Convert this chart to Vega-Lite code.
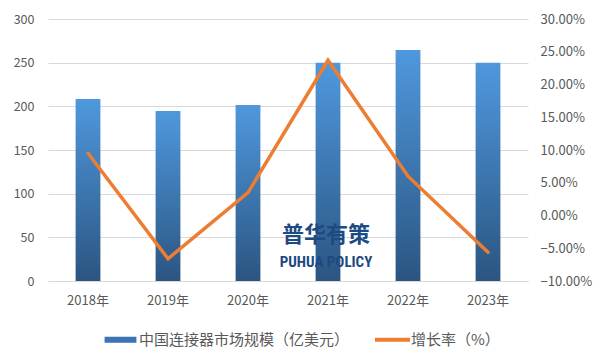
{
  "$schema": "https://vega.github.io/schema/vega-lite/v6.json",
  "width": 480,
  "height": 262,
  "autosize": "none",
  "padding": {"left": 48, "top": 19, "right": 73, "bottom": 80},
  "background": "white",
  "config": {
    "font": "Noto Sans CJK SC",
    "view": {"stroke": null},
    "axis": {"labelColor": "#595959", "labelFontSize": 12.5, "ticks": false, "domain": false, "title": null, "gridColor": "#d9d9d9", "gridWidth": 1}
  },
  "data": {
    "values": [
      {"year": "2018年", "size": 208.4, "growth": 0.095},
      {"year": "2019年", "size": 194.7, "growth": -0.066},
      {"year": "2020年", "size": 201.5, "growth": 0.035},
      {"year": "2021年", "size": 250.0, "growth": 0.237},
      {"year": "2022年", "size": 264.5, "growth": 0.060},
      {"year": "2023年", "size": 250.0, "growth": -0.056}
    ]
  },
  "encoding": {
    "x": {"field": "year", "type": "nominal", "sort": null, "scale": {"paddingInner": 0.69, "paddingOuter": 0.345},
      "axis": {"labelAngle": 0, "domain": true, "domainColor": "#d9d9d9", "labelPadding": 13, "labelFontSize": 13}}
  },
  "layer": [
    {
      "mark": {"type": "bar", "strokeWidth": 0,
        "color": {"gradient": "linear", "x1": 0, "y1": 0, "x2": 0, "y2": 1,
          "stops": [{"offset": 0, "color": "#4f98dd"}, {"offset": 1, "color": "#2b5581"}]}},
      "encoding": {
        "y": {"field": "size", "type": "quantitative", "scale": {"domain": [0, 300]},
          "axis": {"tickCount": 6, "grid": true, "labelPadding": 14}},
        "stroke": {"datum": "中国连接器市场规模（亿美元）", "type": "nominal",
          "scale": {"domain": ["中国连接器市场规模（亿美元）", "增长率（%）"], "range": ["#3a76b6", "#ED7D31"]},
          "legend": {
            "orient": "none", "legendX": 65, "legendY": 313, "direction": "horizontal", "title": null,
            "labelFontSize": 15, "labelColor": "#595959", "symbolSize": 1225, "labelOffset": 11, "columnPadding": 17, "labelLimit": 400,
            "encoding": {"symbols": {
              "shape": {"value": {"expr": "datum.value === '增长率（%）' ? 'stroke' : 'M-0.91,-0.17H0.91V0.17H-0.91Z'"}},
              "fill": {"value": {"expr": "datum.value === '增长率（%）' ? 'transparent' : '#3a74b2'"}},
              "stroke": {"value": {"expr": "datum.value === '增长率（%）' ? '#ED7D31' : '#3a74b2'"}},
              "strokeWidth": {"value": {"expr": "datum.value === '增长率（%）' ? 4 : 0"}}
            }}
          }}
      }
    },
    {
      "mark": {"type": "line", "strokeWidth": 3.5, "strokeCap": "round"},
      "encoding": {
        "y": {"field": "growth", "type": "quantitative", "scale": {"domain": [-0.1, 0.3]},
          "axis": {"orient": "right", "format": ".2%", "tickCount": 8, "grid": false, "labelPadding": 12, "labelFontSize": 13}},
        "stroke": {"datum": "增长率（%）", "type": "nominal"}
      }
    },
    {
      "data": {"values": [
        {"year": "2021年", "v": 52.7, "t": "普华有策"}
      ]},
      "mark": {"type": "text", "fontWeight": "bold", "color": "#1c4a82", "font": "Noto Sans CJK SC", "fontSize": 22, "dx": -2},
      "encoding": {
        "y": {"field": "v", "type": "quantitative", "scale": {"domain": [0, 300]}, "axis": null},
        "text": {"field": "t"}
      }
    },
    {
      "data": {"values": [
        {"year": "2021年", "v": 22.3, "t": "PUHUA POLICY"}
      ]},
      "mark": {"type": "text", "fontWeight": "bold", "color": "#1c4a82", "font": "Liberation Sans Narrow, Roboto Condensed, Roboto", "fontSize": 15, "dx": -2},
      "encoding": {
        "y": {"field": "v", "type": "quantitative", "scale": {"domain": [0, 300]}, "axis": null},
        "text": {"field": "t"}
      }
    }
  ],
  "resolve": {"scale": {"y": "independent"}}
}
